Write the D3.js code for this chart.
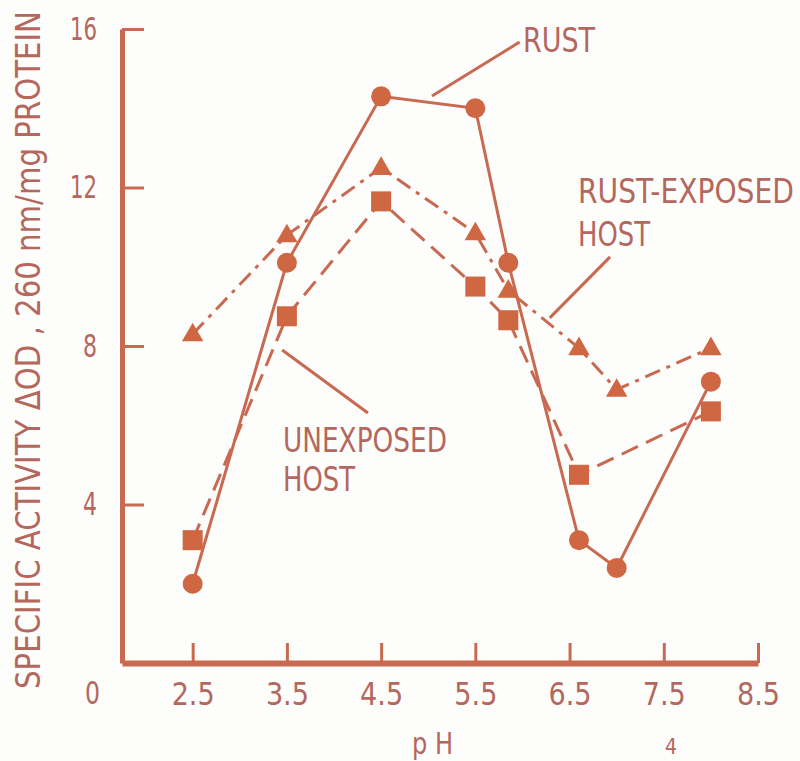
<!DOCTYPE html>
<html>
<head>
<meta charset="utf-8">
<script src="https://cdn.jsdelivr.net/npm/d3@7"></script>
<style>
  body { margin: 0; background: #fdfdfb; }
  svg { display: block; }
  text { font-family: "DejaVu Sans Condensed", "Liberation Sans Narrow", sans-serif; fill: #b3675d; }
</style>
</head>
<body>
<svg id="chart" width="800" height="761"></svg>
<script>
// pH values and specific activity for each preparation
const phAll = [2.5, 3.5, 4.5, 5.5, 5.85, 6.6, 7.0, 8.0];
const rust = [2.0, 10.1, 14.3, 14.0, 10.1, 3.1, 2.4, 7.1];
const rustExposed = [8.3, 10.8, 12.5, 10.85, 9.4, 7.95, 6.9, 7.95];
const phUnexposed = [2.5, 3.5, 4.5, 5.5, 5.85, 6.6, 8.0];
const unexposed = [3.1, 8.75, 11.65, 9.5, 8.65, 4.75, 6.35];

const xTicks = [2.5, 3.5, 4.5, 5.5, 6.5, 7.5, 8.5];
const yTicks = [4, 8, 12, 16];

const lineColor = "#c86a52";
const markColor = "#cf6743";
const font = "'DejaVu Sans Condensed', 'Liberation Sans Narrow', sans-serif";

const svg = d3.select("#chart");

const x = d3.scaleLinear().domain([1.75, 8.5]).range([122, 758]);
const y = d3.scaleLinear().domain([0, 16]).range([663, 29]);

// squeeze a text horizontally to a given width (condensed look)
function squeeze(text, tx, ty, width, rot) {
  const w = text.node().getComputedTextLength();
  text.attr("transform", "translate(" + tx + "," + ty + ")" + (rot ? " rotate(" + rot + ")" : "") + " scale(" + (width / w) + ",1)");
}

// axes
const xAxis = d3.axisBottom(x)
  .tickValues(xTicks)
  .tickFormat(d3.format(".1f"))
  .tickSizeInner(-20)
  .tickSizeOuter(0)
  .tickPadding(19);
const yAxis = d3.axisLeft(y)
  .tickValues(yTicks)
  .tickSizeInner(-22)
  .tickSizeOuter(0)
  .tickPadding(25);

const gx = svg.append("g")
  .attr("transform", "translate(0," + y(0) + ")")
  .call(xAxis);
const gy = svg.append("g")
  .attr("transform", "translate(" + x(1.75) + ",0)")
  .call(yAxis);

gx.select(".domain").attr("stroke", lineColor).attr("stroke-width", 6);
gy.select(".domain").attr("stroke", lineColor).attr("stroke-width", 5);
svg.selectAll(".tick line").attr("stroke", lineColor).attr("stroke-width", 3);
svg.selectAll(".tick text")
  .attr("fill", "#b3675d")
  .style("font-size", "32px")
  .style("font-family", font)
  .attr("lengthAdjust", "spacingAndGlyphs");
gx.selectAll(".tick text").attr("textLength", 43);
gy.selectAll(".tick text").attr("textLength", d => d >= 10 ? 27 : 14);

// "0" at the origin, on the x label row
svg.append("text")
  .attr("x", 100).attr("y", 704)
  .attr("text-anchor", "end")
  .attr("textLength", 15)
  .attr("lengthAdjust", "spacingAndGlyphs")
  .style("font-size", "32px")
  .text("0");

// axis titles
const yTitle = svg.append("text")
  .attr("text-anchor", "middle")
  .style("font-size", "34px")
  .text("SPECIFIC ACTIVITY \u0394OD , 260 nm/mg PROTEIN");
squeeze(yTitle, 40, 350, 678, -90);

const xTitle = svg.append("text")
  .style("font-size", "31px")
  .text("p H");
squeeze(xTitle, 412, 754, 41);

svg.append("text")
  .attr("x", 665).attr("y", 754)
  .style("font-size", "21px")
  .text("4");

// series lines
const line = d3.line().x(d => x(d[0])).y(d => y(d[1]));

svg.append("path")
  .datum(d3.zip(phAll, rustExposed))
  .attr("d", line)
  .attr("fill", "none")
  .attr("stroke", lineColor)
  .attr("stroke-width", 3)
  .attr("stroke-dasharray", "16 7 4 7");

svg.append("path")
  .datum(d3.zip(phUnexposed, unexposed))
  .attr("d", line)
  .attr("fill", "none")
  .attr("stroke", lineColor)
  .attr("stroke-width", 3)
  .attr("stroke-dasharray", "18 9");

svg.append("path")
  .datum(d3.zip(phAll, rust))
  .attr("d", line)
  .attr("fill", "none")
  .attr("stroke", lineColor)
  .attr("stroke-width", 3);

// markers
svg.selectAll(".tri")
  .data(d3.zip(phAll, rustExposed))
  .enter().append("path")
  .attr("class", "tri")
  .attr("d", d3.symbol(d3.symbolTriangle, 200))
  .attr("transform", d => "translate(" + x(d[0]) + "," + (y(d[1]) + 1) + ")")
  .attr("fill", markColor);

svg.selectAll(".sq")
  .data(d3.zip(phUnexposed, unexposed))
  .enter().append("rect")
  .attr("class", "sq")
  .attr("x", d => x(d[0]) - 10)
  .attr("y", d => y(d[1]) - 10)
  .attr("width", 20)
  .attr("height", 20)
  .attr("fill", markColor);

svg.selectAll(".dot")
  .data(d3.zip(phAll, rust))
  .enter().append("circle")
  .attr("class", "dot")
  .attr("cx", d => x(d[0]))
  .attr("cy", d => y(d[1]))
  .attr("r", 10)
  .attr("fill", markColor);

// labels with pointer lines (in data units)
const pointers = [
  [[5.04, 14.31], [5.97, 15.67]],
  [[6.93, 10.25], [6.29, 8.71]],
  [[3.45, 7.9], [4.36, 6.31]]
];
svg.selectAll(".ptr")
  .data(pointers)
  .enter().append("line")
  .attr("class", "ptr")
  .attr("x1", d => x(d[0][0])).attr("y1", d => y(d[0][1]))
  .attr("x2", d => x(d[1][0])).attr("y2", d => y(d[1][1]))
  .attr("stroke", lineColor)
  .attr("stroke-width", 3);

// label text, left x, baseline y, width
const labels = [
  ["RUST", 523, 52, 72],
  ["RUST-EXPOSED", 578, 203, 216],
  ["HOST", 578, 246, 72],
  ["UNEXPOSED", 283, 452, 164],
  ["HOST", 283, 491, 72]
];
svg.selectAll(".lab")
  .data(labels)
  .enter().append("text")
  .attr("class", "lab")
  .style("font-size", "34px")
  .text(d => d[0])
  .each(function(d) { squeeze(d3.select(this), d[1], d[2], d[3]); });
</script>
</body>
</html>
